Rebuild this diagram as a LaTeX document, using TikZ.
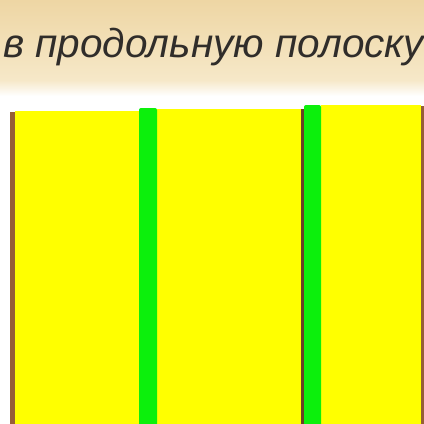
\documentclass[tikz,border=0pt]{standalone}
\usepackage{fontspec}
\setmainfont{Liberation Sans}
\usepackage{tikz}
\usetikzlibrary{positioning, calc}
\definecolor{paperTan}{RGB}{238,214,164}
\definecolor{paperLight}{RGB}{246,232,200}
\definecolor{panelYellow}{RGB}{255,255,0}
\definecolor{stripGreen}{RGB}{12,240,12}
\definecolor{edgeBrown}{RGB}{150,95,55}
\definecolor{seamDark}{RGB}{105,66,38}
\definecolor{captionGray}{RGB}{48,45,42}
\tikzset{
    panel/.style={fill=panelYellow, draw=none},
    strip/.style={fill=stripGreen, draw=none},
    edge/.style={fill=edgeBrown, draw=none}
}

\begin{document}
\begin{tikzpicture}[x=1pt, y=-1pt]
        \useasboundingbox (0,0) rectangle (424,424);
        \clip (0,0) rectangle (424,424);

        % ==========================================
        % TOP: Caption on tan paper
        % ==========================================
        \fill[white] (0,0) rectangle (424,424);
        \shade[top color=paperTan, bottom color=paperLight] (0,0) rectangle (424,80);
        \shade[top color=paperLight, bottom color=white] (0,80) rectangle (424,96);
        \node[anchor=base west, inner sep=0pt, text=captionGray,
              font=\fontsize{40.5}{40.5}\selectfont\itshape] (caption) at (3,57)
              {в продольную полоску};

        % ==========================================
        % BOTTOM: Yellow panels with green strips
        % ==========================================
        % 1. Brown edges of the board
        \fill[edge] (10,112) rectangle (15,424);
        \fill[edge] (421,106) rectangle (424,424);
        \fill[seamDark] (301,109) rectangle (303.5,424);

        % 2. Yellow panels
        \fill[panel] (15,111) rectangle (140,424);
        \fill[panel] (157,109) rectangle (301,424);
        \fill[panel] (321,105) rectangle (421,424);

        % 3. Green strips
        \fill[strip, rounded corners=2pt] (139,108) rectangle (157,430);
        \fill[strip, rounded corners=2pt] (304,105) rectangle (321,430);

\end{tikzpicture}
\end{document}
